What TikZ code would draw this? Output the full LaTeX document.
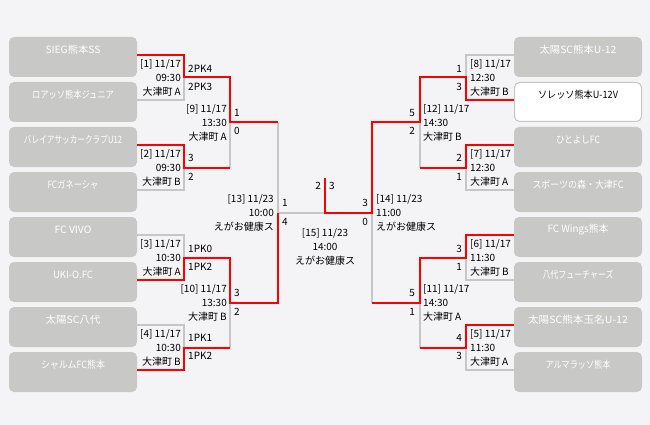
\documentclass[tikz,border=0pt]{standalone}
\usepackage{fontspec}
\setmainfont{Noto Sans CJK JP}
\definecolor{bg}{RGB}{244,243,246}
\definecolor{boxg}{RGB}{200,201,198}
\definecolor{lineg}{RGB}{198,198,198}
\definecolor{rd}{RGB}{255,0,0}
\newsavebox\tmpfitbox
\newcommand\fitw[2]{\sbox\tmpfitbox{#2}\scalebox{\fpeval{(#1pt)/(\the\wd\tmpfitbox)}}[1]{\usebox\tmpfitbox}}
\newcommand\otsu[1]{大津町\kern2pt#1}
\begin{document}
\begin{tikzpicture}[x=1pt,y=-1pt,
  box/.style={fill=boxg, rounded corners=5pt, minimum width=128pt, minimum height=40pt, inner sep=0pt},
  wbox/.style={draw=lineg, line width=1pt, fill=white, rounded corners=5pt, minimum width=127pt, minimum height=39pt, inner sep=0pt},
  tname/.style={font=\fontsize{10}{12}\selectfont, text=white, inner sep=0pt},
  gl/.style={draw=lineg, line width=2pt},
  rl/.style={draw=rd, line width=2pt},
  mlabL/.style={font=\fontsize{10}{14}\selectfont, inner sep=0pt, align=right, anchor=east},
  mlabR/.style={font=\fontsize{10}{14}\selectfont, inner sep=0pt, align=left, anchor=west},
  scL/.style={font=\fontsize{10}{12}\selectfont, inner sep=0pt, anchor=west},
  scR/.style={font=\fontsize{10}{12}\selectfont, inner sep=0pt, anchor=east},
]
\fill[bg] (0,0) rectangle (650,425);
\useasboundingbox (0,0) rectangle (650,425);

% team boxes left
\node[box] (L1) at (73,57) {};
\node[box] (L2) at (73,102) {};
\node[box] (L3) at (73,147) {};
\node[box] (L4) at (73,192) {};
\node[box] (L5) at (73,237) {};
\node[box] (L6) at (73,282) {};
\node[box] (L7) at (73,327) {};
\node[box] (L8) at (73,372) {};
% team boxes right
\node[box] (R1) at (578,57) {};
\node[wbox] (R2) at (578,102) {};
\node[box] (R3) at (578,147) {};
\node[box] (R4) at (578,192) {};
\node[box] (R5) at (578,237) {};
\node[box] (R6) at (578,282) {};
\node[box] (R7) at (578,327) {};
\node[box] (R8) at (578,372) {};

% team names
\node[tname] (tL1) at ([yshift=7pt]L1.center) {\fitw{55}{SIEG熊本SS}};
\node[tname] (tL2) at ([yshift=7pt]L2.center) {\fitw{82}{ロアッソ熊本ジュニア}};
\node[tname] (tL3) at ([yshift=7pt]L3.center) {\fitw{98}{バレイアサッカークラブU12}};
\node[tname] (tL4) at ([yshift=7pt]L4.center) {\fitw{51}{FCガネーシャ}};
\node[tname] (tL5) at ([yshift=7pt]L5.center) {\fitw{37}{FC VIVO}};
\node[tname] (tL6) at ([yshift=7pt]L6.center) {\fitw{40}{UKI-O.FC}};
\node[tname] (tL7) at ([yshift=7pt]L7.center) {\fitw{55}{太陽SC八代}};
\node[tname] (tL8) at ([yshift=7pt]L8.center) {\fitw{64}{シャルムFC熊本}};
\node[tname] (tR1) at ([yshift=7pt]R1.center) {\fitw{77}{太陽SC熊本U-12}};
\node[tname, text=black] (tR2) at ([yshift=7pt]R2.center) {\fitw{80}{ソレッソ熊本U-12V}};
\node[tname] (tR3) at ([yshift=7pt]R3.center) {\fitw{44}{ひとよしFC}};
\node[tname] (tR4) at ([yshift=7pt]R4.center) {\fitw{91}{スポーツの森・大津FC}};
\node[tname] (tR5) at ([yshift=7pt]R5.center) {\fitw{61}{FC Wings熊本}};
\node[tname] (tR6) at ([yshift=7pt]R6.center) {\fitw{71}{八代フューチャーズ}};
\node[tname] (tR7) at ([yshift=7pt]R7.center) {\fitw{100}{太陽SC熊本玉名U-12}};
\node[tname] (tR8) at ([yshift=7pt]R8.center) {\fitw{65}{アルマラッソ熊本}};

% match points
\coordinate (M1) at (184,77.5);
\coordinate (M2) at (184,167.5);
\coordinate (M3) at (184,257.5);
\coordinate (M4) at (184,347.5);
\coordinate (M9) at (230,122.5);
\coordinate (M10) at (230,302.5);
\coordinate (M13) at (278,212.5);
\coordinate (M15) at (325,212.5);
\coordinate (F) at (325,178);
\coordinate (M14) at (372,212.5);
\coordinate (M12) at (420,122.5);
\coordinate (M11) at (420,302.5);
\coordinate (M8) at (466,77.5);
\coordinate (M7) at (466,167.5);
\coordinate (M6) at (466,257.5);
\coordinate (M5) at (466,347.5);

% gray lines
\draw[gl] ([yshift=2pt]L2.east) -| (M1);
\draw[gl] ([yshift=2pt]L4.east) -| (M2);
\draw[gl] ([yshift=2pt]L5.east) -| (M3);
\draw[gl] ([yshift=2pt]L7.east) -| (M4);
\draw[gl] (M2 -| M9) -- (M9);
\draw[gl] (M4 -| M10) -- (M10);
\draw[gl] (M9 -| M13) -- (M13) -- (M15);
\draw[gl] ([yshift=2pt]R1.west) -| (M8);
\draw[gl] ([yshift=2pt]R4.west) -| (M7);
\draw[gl] ([yshift=2pt]R6.west) -| (M6);
\draw[gl] ([yshift=2pt]R8.west) -| (M5);
\draw[gl] (M7 -| M12) -- (M12);
\draw[gl] (M5 -| M11) -- (M11);
\draw[gl] (M11 -| M14) -- (M14);

% red lines
\draw[rl] ([yshift=2pt]L1.east) -| (M1) -| (M9) -- (M9 -| M13);
\draw[rl] ([yshift=2pt]L3.east) -| (M2) -- (M2 -| M9);
\draw[rl] ([yshift=2pt]L6.east) -| (M3) -| (M10) -| (M13);
\draw[rl] ([yshift=2pt]L8.east) -| (M4) -- (M4 -| M10);
\draw[rl] ([yshift=2pt]R2.west) -| (M8) -| (M12) -| (M14) -- (M15) -- (F);
\draw[rl] ([yshift=2pt]R3.west) -| (M7) -- (M7 -| M12);
\draw[rl] ([yshift=2pt]R5.west) -| (M6) -| (M11) -- (M11 -| M14);
\draw[rl] ([yshift=2pt]R7.west) -| (M5) -- (M5 -| M11);

% match labels
\node[mlabL] (lM1) at (181,78) {[1] 11/17\\09:30\\\otsu{A}};
\node[mlabL] (lM2) at (181,168) {[2] 11/17\\09:30\\\otsu{B}};
\node[mlabL] (lM3) at (181,258) {[3] 11/17\\10:30\\\otsu{A}};
\node[mlabL] (lM4) at (181,348) {[4] 11/17\\10:30\\\otsu{B}};
\node[mlabL] (lM9) at (227,123) {[9] 11/17\\13:30\\\otsu{A}};
\node[mlabL] (lM10) at (227,303) {[10] 11/17\\13:30\\\otsu{B}};
\node[mlabL] (lM13) at (274,213) {[13] 11/23\\10:00\\えがお健康ス};
\node[mlabR] (lM8) at (470,78) {[8] 11/17\\12:30\\\otsu{B}};
\node[mlabR] (lM7) at (470,168) {[7] 11/17\\12:30\\\otsu{A}};
\node[mlabR] (lM6) at (470,258) {[6] 11/17\\11:30\\\otsu{B}};
\node[mlabR] (lM5) at (470,348) {[5] 11/17\\11:30\\\otsu{A}};
\node[mlabR] (lM12) at (423,123) {[12] 11/17\\14:30\\\otsu{B}};
\node[mlabR] (lM11) at (423,303) {[11] 11/17\\14:30\\\otsu{A}};
\node[mlabR] (lM14) at (376,213) {[14] 11/23\\11:00\\えがお健康ス};
\node[font=\fontsize{10}{14}\selectfont, inner sep=0pt, align=center] (lM15) at (325,247) {[15] 11/23\\14:00\\えがお健康ス};

% scores
\node[scL] (s1a) at (188,69) {2PK4};
\node[scL] (s1b) at (188,87) {2PK3};
\node[scL] (s2a) at (188,158) {3};
\node[scL] (s2b) at (188,177) {2};
\node[scL] (s3a) at (188,249) {1PK0};
\node[scL] (s3b) at (188,267) {1PK2};
\node[scL] (s4a) at (188,338) {1PK1};
\node[scL] (s4b) at (188,356) {1PK2};
\node[scL] (s9a) at (234,113) {1};
\node[scL] (s9b) at (234,131) {0};
\node[scL] (s10a) at (234,293) {3};
\node[scL] (s10b) at (234,312) {2};
\node[scL] (s13a) at (282,203) {1};
\node[scL] (s13b) at (282,222) {4};
\node[scR] (s15a) at (321,186) {2};
\node[scL] (s15b) at (329,186) {3};
\node[scR] (s8a) at (462,69) {1};
\node[scR] (s8b) at (462,87) {3};
\node[scR] (s7a) at (462,158) {2};
\node[scR] (s7b) at (462,177) {1};
\node[scR] (s6a) at (462,249) {3};
\node[scR] (s6b) at (462,267) {1};
\node[scR] (s5a) at (462,338) {4};
\node[scR] (s5b) at (462,356) {3};
\node[scR] (s12a) at (415,113) {5};
\node[scR] (s12b) at (415,131) {2};
\node[scR] (s11a) at (415,293) {5};
\node[scR] (s11b) at (415,312) {1};
\node[scR] (s14a) at (368,203) {3};
\node[scR] (s14b) at (368,222) {0};
\end{tikzpicture}
\end{document}
